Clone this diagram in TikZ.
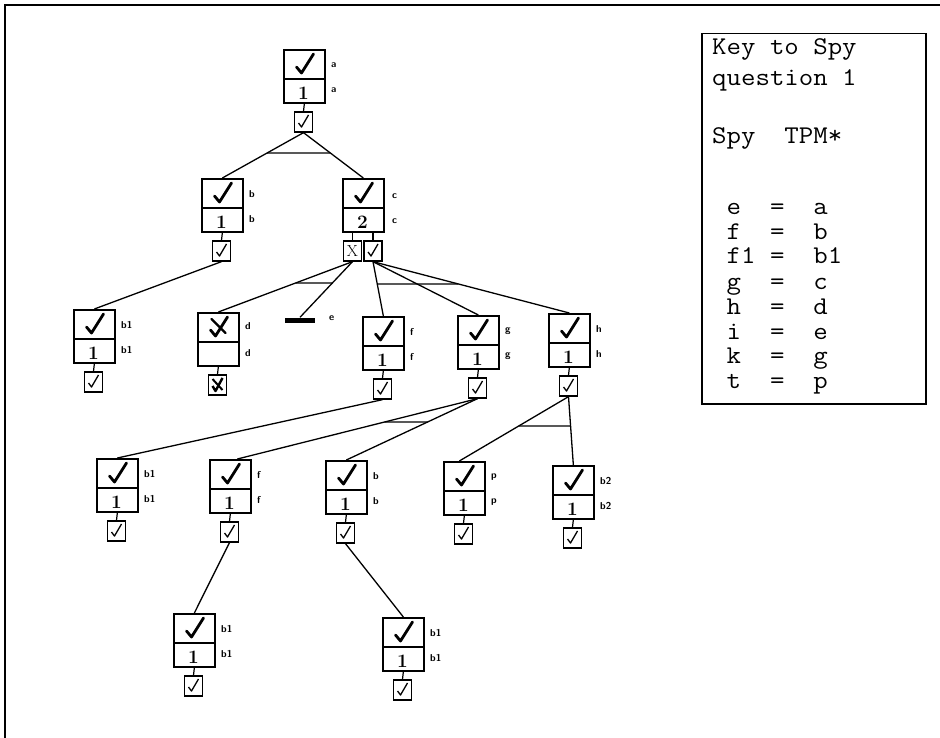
\documentclass[tikz,border=0pt]{standalone}
\usepackage{fontspec}
\usetikzlibrary{calc}
\tikzset{
 mbox/.style={draw, line width=1.7pt, minimum width=41pt, minimum height=53pt, inner sep=0pt, anchor=north west},
 sbox/.style={draw, line width=1.3pt, minimum width=18pt, minimum height=20pt, inner sep=0pt},
 divl/.style={line width=1.2pt},
 conn/.style={line width=1.3pt},
 stem/.style={line width=1.2pt},
 numtxt/.style={font=\bfseries\fontsize{19}{19}\selectfont, inner sep=0pt},
 labtxt/.style={font=\sffamily\bfseries\fontsize{10}{10}\selectfont, inner sep=0pt, anchor=west},
 keytxt/.style={font=\ttfamily\fontsize{25.5}{25.5}\selectfont, inner sep=0pt, anchor=base west, xscale=1.1, transform shape},
 chk/.pic={\draw[line width=2.8pt, line join=round, line cap=round] (-7,3) -- (-2,9) -- (10,-10);},
 schk/.pic={\draw[line width=1.3pt, line join=round] (-5,1) -- (-2,5) -- (5,-7);},
 xchk/.pic={\draw[line width=2.8pt, line join=round, line cap=round] (-7,3) -- (-2,9) -- (10,-10);
            \draw[line width=2.2pt, line cap=round] (-6,-8) -- (8,6);},
 sxchk/.pic={\draw[line width=2.4pt, line join=round] (-5,1) -- (-2,6) -- (5,-7);
             \draw[line width=2pt] (-5,-6) -- (5,5);},
}
\newcommand\tpm[6]{%
 \node[mbox] (#1) at (#2,#3) {};
 \draw[divl] (#2,#3+30) -- (#2+41,#3+30);
 \pic at (#2+20.5,#3+15) {chk};
 \node[numtxt] (#1n) at (#2+20.5,#3+44) {#4};
 \node[labtxt] (#1la) at (#2+48,#3+16) {#5};
 \node[labtxt] (#1lb) at (#2+48,#3+41) {#6};
 \node[sbox] (#1s) at (#2+20.5,#3+73) {};
 \pic at (#2+20.5,#3+73) {schk};
 \draw[stem] (#1.south) -- (#1s.north);
}
\newcommand\xbar[5]{%
 \draw[conn] (intersection of #1--#2 and 0,#5--900,#5) -- (intersection of #3--#4 and 0,#5--900,#5);
}
\begin{document}
\begin{tikzpicture}[x=1pt,y=-1pt]
\useasboundingbox (0,0) rectangle (940,738);
\draw[line width=2.5pt] (5,738) -- (5,5) -- (940,5);

% tree nodes
\tpm{a}{283}{49}{1}{a}{a}
\tpm{b}{201}{178}{1}{b}{b}
\tpm{bx}{73}{309}{1}{b1}{b1}
\tpm{f}{362}{316}{1}{f}{f}
\tpm{g}{457}{315}{1}{g}{g}
\tpm{h}{548}{313}{1}{h}{h}
\tpm{by}{96}{458}{1}{b1}{b1}
\tpm{ff}{209}{459}{1}{f}{f}
\tpm{bb}{325}{460}{1}{b}{b}
\tpm{p}{443}{461}{1}{p}{p}
\tpm{bt}{552}{465}{1}{b2}{b2}
\tpm{bz}{173}{613}{1}{b1}{b1}
\tpm{bw}{382}{617}{1}{b1}{b1}

% node c with two outcome boxes
\node[mbox] (c) at (342,178) {};
\draw[divl] (342,208) -- (383,208);
\pic at (362.5,193) {chk};
\node[numtxt] (cn) at (362.5,222) {2};
\node[labtxt] (cla) at (392,196) {c};
\node[labtxt] (clb) at (392,221) {c};
\node[sbox] (cx) at (352.5,251) {};
\node[font=\fontsize{16}{16}\selectfont, inner sep=0pt] (cxt) at (cx) {X};
\node[sbox] (ck) at (373,251) {};
\pic at (373,251) {schk};
\draw[stem] (cx.north) -- (cx.north |- c.south);
\draw[stem] (ck.north) -- (ck.north |- c.south);

% node d (failed)
\node[mbox] (d) at (197,312) {};
\draw[divl] (197,342) -- (238,342);
\pic at (217.5,327) {xchk};
\node[labtxt] (dla) at (245,326) {d};
\node[labtxt] (dlb) at (245,353) {d};
\node[sbox, line width=1.6pt] (ds) at (217.5,385) {};
\pic at (217.5,385) {sxchk};
\draw[stem] (d.south) -- (ds.north);

% e bar
\node[fill, minimum width=30pt, minimum height=5pt, inner sep=0pt] (eb) at (300,320) {};
\node[labtxt] (ebl) at (329,318) {e};

% connectors
\draw[conn] (as.south) -- (b.north);
\draw[conn] (as.south) -- (c.north);
\xbar{as.south}{b.north}{as.south}{c.north}{153}

\draw[conn] (bs.south) -- (bx.north);

\draw[conn] (cx.south) -- (d.north);
\draw[conn] (cx.south) -- (eb.north);
\xbar{cx.south}{d.north}{cx.south}{eb.north}{283}

\draw[conn] (ck.south) -- (f.north);
\draw[conn] (ck.south) -- (g.north);
\draw[conn] (ck.south) -- (h.north);
\xbar{ck.south}{f.north}{ck.south}{h.north}{284}

\draw[conn] (fs.south) -- (by.north);

\coordinate (ffin) at ([xshift=7pt]ff.north);
\draw[conn] (gs.south) -- (ffin);
\draw[conn] (gs.south) -- (bb.north);
\xbar{gs.south}{ffin}{gs.south}{bb.north}{422}

\coordinate (pin) at ([xshift=-5pt]p.north);
\draw[conn] (hs.south) -- (pin);
\draw[conn] (hs.south) -- (bt.north);
\xbar{hs.south}{pin}{hs.south}{bt.north}{426}

\draw[conn] (ffs.south) -- (bz.north);
\draw[conn] (bbs.south) -- (bw.north);

% key
\node[draw, line width=1.5pt, anchor=north west, minimum width=224pt, minimum height=370pt, inner sep=0pt] (key) at (701,33) {};
\node[keytxt] (k1) at (712,55) {Key to Spy};
\node[keytxt] (k2) at (712,86) {question 1};
\node[keytxt] (k3) at (712,144) {Spy~~TPM*};
\node[keytxt] (k4) at (712,215) {~e~~=~~a};
\node[keytxt] (k5) at (712,240) {~f~~=~~b};
\node[keytxt] (k6) at (712,264) {~f1~=~~b1};
\node[keytxt] (k7) at (712,289) {~g~~=~~c};
\node[keytxt] (k8) at (712,314) {~h~~=~~d};
\node[keytxt] (k9) at (712,339) {~i~~=~~e};
\node[keytxt] (k10) at (712,363) {~k~~=~~g};
\node[keytxt] (k11) at (712,388) {~t~~=~~p};
\end{tikzpicture}
\end{document}
